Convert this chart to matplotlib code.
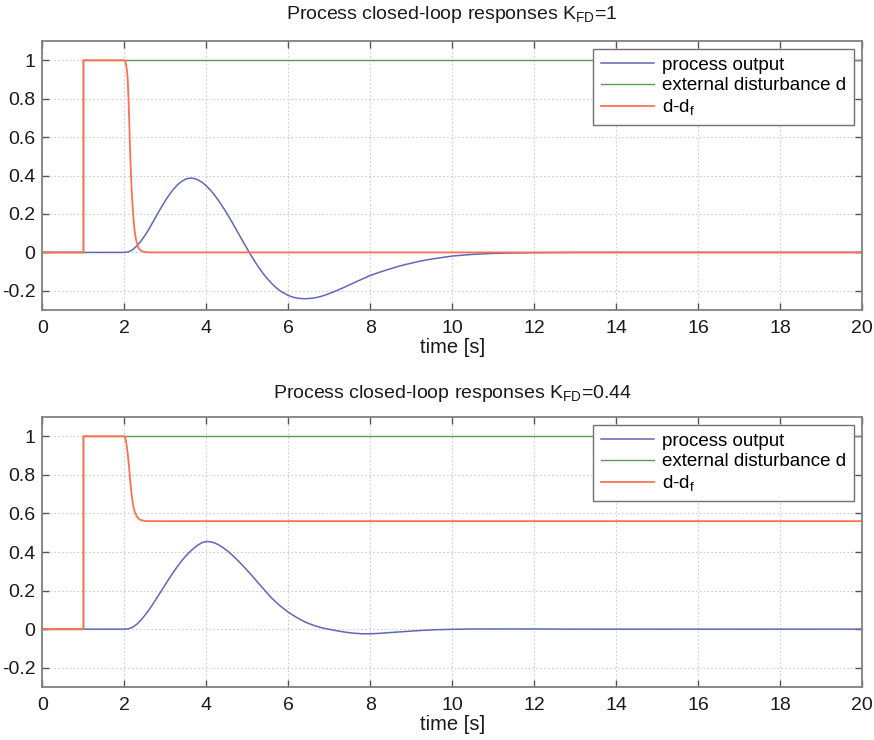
import matplotlib
matplotlib.use("Agg")
import matplotlib.pyplot as plt

plt.rcParams['font.family'] = ['Liberation Sans', 'DejaVu Sans']
plt.rcParams['mathtext.fontset'] = 'custom'
plt.rcParams['mathtext.rm'] = 'Liberation Sans'
plt.rcParams['mathtext.it'] = 'Liberation Sans'

# ---------------- data ----------------
titles = [r'Process closed-loop responses K$_{\mathrm{FD}}$=1',
          r'Process closed-loop responses K$_{\mathrm{FD}}$=0.44']
labels = ['process output', 'external disturbance d', r'd-d$_{\mathrm{f}}$']

dist_t = [0, 1, 1, 20]
dist_v = [0, 0, 1, 1]

# top panel (K_FD = 1): process output
y1_t = [0, 2.0, 2.1, 2.2, 2.3, 2.4, 2.5, 2.6, 2.7, 2.8, 2.9, 3.0, 3.1, 3.2, 3.3, 3.4, 3.5,
        3.6, 3.7, 3.8, 3.9, 4.0, 4.1, 4.2, 4.3, 4.4, 4.5, 4.6, 4.7, 4.8, 4.9, 5.0, 5.1,
        5.2, 5.3, 5.4, 5.5, 5.6, 5.7, 5.8, 5.9, 6.0, 6.1, 6.2, 6.3, 6.4, 6.5, 6.6, 6.7,
        6.8, 6.9, 7.0, 7.2, 7.4, 7.6, 7.8, 8.0, 8.2, 8.4, 8.6, 8.8, 9.0, 9.2, 9.4, 9.6,
        9.8, 10.0, 10.5, 11.0, 11.5, 12.0, 13.0, 20.0]
y1_v = [0, 0, 0.003, 0.014, 0.033, 0.058, 0.088, 0.122, 0.16, 0.198, 0.235, 0.27, 0.302,
        0.33, 0.353, 0.37, 0.382, 0.387, 0.385, 0.377, 0.364, 0.346, 0.324, 0.298, 0.269,
        0.237, 0.203, 0.167, 0.13, 0.092, 0.054, 0.017, -0.019, -0.053, -0.085, -0.114,
        -0.14, -0.163, -0.183, -0.2, -0.213, -0.224, -0.232, -0.237, -0.24, -0.241,
        -0.24, -0.238, -0.234, -0.229, -0.222, -0.214, -0.197, -0.178, -0.158, -0.139,
        -0.12, -0.105, -0.091, -0.078, -0.066, -0.056, -0.046, -0.038, -0.031, -0.025,
        -0.019, -0.01, -0.005, -0.003, -0.0015, 0, 0]
# top panel: d - d_f
e1_t = [0, 1, 1, 2.0, 2.02, 2.04, 2.06, 2.08, 2.1, 2.12, 2.14, 2.16, 2.18, 2.2, 2.22, 2.24,
        2.26, 2.28, 2.32, 2.36, 2.4, 2.45, 2.5, 2.6, 20]
e1_v = [0, 0, 1, 1, 0.995, 0.98, 0.95, 0.9, 0.8, 0.66, 0.52, 0.4, 0.31, 0.24, 0.18, 0.13,
        0.095, 0.07, 0.035, 0.018, 0.01, 0.004, 0.002, 0, 0]

# bottom panel (K_FD = 0.44): process output
y2_t = [0, 2.0, 2.1, 2.2, 2.3, 2.4, 2.5, 2.6, 2.7, 2.8, 2.9, 3.0, 3.1, 3.2, 3.3, 3.4, 3.5,
        3.6, 3.7, 3.8, 3.9, 4.0, 4.1, 4.2, 4.3, 4.4, 4.5, 4.6, 4.7, 4.8, 4.9, 5.0, 5.1,
        5.2, 5.3, 5.4, 5.5, 5.6, 5.7, 5.8, 5.9, 6.0, 6.1, 6.2, 6.3, 6.4, 6.5, 6.6, 6.7,
        6.8, 6.9, 7.0, 7.2, 7.4, 7.6, 7.8, 8.0, 8.2, 8.4, 8.6, 8.8, 9.0, 9.3, 9.6, 10.0,
        10.5, 11.0, 12.0, 13.0, 20.0]
y2_v = [0, 0, 0.002, 0.01, 0.025, 0.046, 0.072, 0.1, 0.132, 0.165, 0.198, 0.232, 0.265,
        0.297, 0.327, 0.355, 0.38, 0.402, 0.421, 0.437, 0.449, 0.455, 0.453, 0.447, 0.437,
        0.424, 0.408, 0.39, 0.37, 0.349, 0.327, 0.304, 0.28, 0.256, 0.231, 0.207, 0.183,
        0.16, 0.14, 0.121, 0.104, 0.088, 0.074, 0.061, 0.049, 0.038, 0.029, 0.021, 0.014,
        0.008, 0.003, -0.001, -0.009, -0.016, -0.021, -0.024, -0.024, -0.022, -0.019,
        -0.016, -0.013, -0.01, -0.006, -0.003, -0.001, 0.001, 0.001, 0.001, 0, 0]
# bottom panel: d - d_f
e2_t = [0, 1, 1, 2.0, 2.025, 2.05, 2.075, 2.1, 2.125, 2.15, 2.175, 2.2, 2.225, 2.25, 2.3,
        2.35, 2.4, 2.5, 2.6, 20]
e2_v = [0, 0, 1, 1, 0.99, 0.96, 0.92, 0.87, 0.81, 0.75, 0.7, 0.66, 0.63, 0.61, 0.585,
        0.572, 0.566, 0.561, 0.56, 0.56]

xticks = [0, 2, 4, 6, 8, 10, 12, 14, 16, 18, 20]
yticks = [-0.2, 0, 0.2, 0.4, 0.6, 0.8, 1]
ytick_labels = ['-0.2', '0', '0.2', '0.4', '0.6', '0.8', '1']

c_blue = '#5f67b8'
c_green = '#5c9c52'
c_orange = '#ff6f50'
c_spine = '#808080'
c_text = '#1a1a1a'

fig = plt.figure(figsize=(8.74, 7.40), dpi=100)
ax1 = fig.add_axes([0.0486, 0.581, 0.9377, 0.3635])
ax2 = fig.add_axes([0.0486, 0.0716, 0.9377, 0.3649])

title_pads = [16, 14]
panels = [(ax1, y1_t, y1_v, e1_t, e1_v), (ax2, y2_t, y2_v, e2_t, e2_v)]
for i, (ax, yt, yv, et, ev) in enumerate(panels):
    ax.plot(yt, yv, color=c_blue, lw=1.1, label=labels[0])
    ax.plot(dist_t, dist_v, color=c_green, lw=1.0, label=labels[1])
    ax.plot(et, ev, color=c_orange, lw=1.3, label=labels[2])
    ax.set_xlim(0, 20)
    ax.set_ylim(-0.3, 1.1)
    ax.set_xticks(xticks)
    ax.set_yticks(yticks)
    ax.set_yticklabels(ytick_labels)
    ax.grid(True, linestyle=(0, (1.5, 2.0)), color='#cccccc', linewidth=0.8)
    ax.tick_params(direction='in', top=True, right=True, length=5, width=1.0,
                   color='#555555', labelsize=14, labelcolor=c_text, pad=5)
    ax.tick_params(axis='x', pad=7)
    for s in ax.spines.values():
        s.set_color(c_spine)
        s.set_linewidth(1.3)
    ax.set_xlabel('time [s]', fontsize=14.5, labelpad=1, color=c_text)
    ax.set_title(titles[i], fontsize=14, pad=title_pads[i], color=c_text)
    leg = ax.legend(loc='upper right', fontsize=13.5, handlelength=2.8, handletextpad=0.45,
                    borderpad=0.42, labelspacing=0.17, fancybox=False, framealpha=1,
                    edgecolor='#707070', borderaxespad=0.42)
    leg.get_frame().set_linewidth(1.0)

fig.savefig('out.png', dpi=100)
